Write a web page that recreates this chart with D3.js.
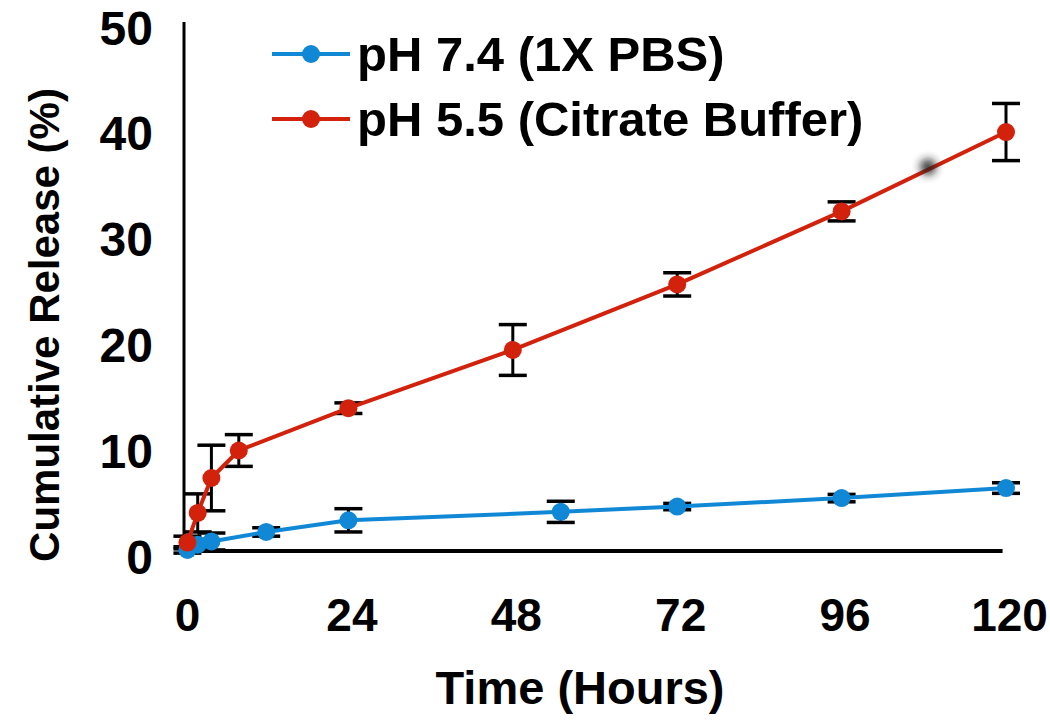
<!DOCTYPE html>
<html>
<head>
<meta charset="utf-8">
<script src="https://cdn.jsdelivr.net/npm/d3@7"></script>
<style>
  html, body { margin: 0; padding: 0; background: #fff; }
  svg { display: block; }
  text { font-family: "Liberation Sans", Arial, sans-serif; font-weight: bold; fill: #000; }
</style>
</head>
<body>
<svg id="chart" width="1050" height="720"></svg>
<script>
// ---- data ----
const seriesNames = ["pH 7.4 (1X PBS)", "pH 5.5 (Citrate Buffer)"];
const seriesColors = ["#1188d6", "#d2220c"];

const timesBlue   = [0.5, 2, 4, 12, 24, 55, 72, 96, 120];
const releaseBlue = [0.1, 0.6, 0.9, 1.8, 2.9, 3.7, 4.2, 5.0, 5.95];
const errorBlue   = [0.3, 0.5, 0.8, 0.4, 1.1, 1.0, 0.3, 0.35, 0.5];

const timesRed    = [0.5, 2, 4, 8, 24, 48, 72, 96, 120];
const releaseRed  = [0.8, 3.6, 6.9, 9.5, 13.5, 19.0, 25.2, 32.1, 39.6];
const errorRed    = [0.6, 1.8, 3.1, 1.5, 0.5, 2.4, 1.1, 0.9, 2.7];

const xTicks = [0, 24, 48, 72, 96, 120];
const yTicks = [0, 10, 20, 30, 40, 50];

const xTitle = "Time (Hours)";
const yTitle = "Cumulative Release (%)";

// ---- build ----
const svg = d3.select("#chart");
const FONT = '"Liberation Sans", Arial, sans-serif';

const x = d3.scaleLinear().domain([0, 120]).range([184, 1006]);
const y = d3.scaleLinear().domain([0, 50]).range([551, 22]);

const series = [
  { name: seriesNames[0], color: seriesColors[0],
    pts: timesBlue.map((t, i) => ({ t, v: releaseBlue[i], e: errorBlue[i] })) },
  { name: seriesNames[1], color: seriesColors[1],
    pts: timesRed.map((t, i) => ({ t, v: releaseRed[i], e: errorRed[i] })) }
];

// axes lines
svg.append("line")
  .attr("x1", x(0)).attr("x2", x(0))
  .attr("y1", y(50)).attr("y2", y(0))
  .attr("stroke", "#000").attr("stroke-width", 3);
svg.append("line")
  .attr("x1", x(0) - 1.5).attr("x2", x(119.5))
  .attr("y1", y(0)).attr("y2", y(0))
  .attr("stroke", "#000").attr("stroke-width", 4);

// tick labels
const xAxis = d3.axisBottom(x).tickValues(xTicks).tickSize(0).tickPadding(0);
const gx = svg.append("g").attr("transform", `translate(3, ${y(0) + 80})`).call(xAxis);
gx.select(".domain").remove();
gx.selectAll("text").attr("dy", 0).attr("y", 0)
  .attr("font-size", 46).style("font-family", FONT).style("font-weight", "bold").attr("fill", "#000");

const yAxis = d3.axisLeft(y).tickValues(yTicks).tickSize(0).tickPadding(0);
const gy = svg.append("g").attr("transform", `translate(153, 0)`).call(yAxis);
gy.select(".domain").remove();
gy.selectAll("text").attr("dy", 0).attr("y", 22).attr("x", 0)
  .attr("font-size", 48).style("font-family", FONT).style("font-weight", "bold").attr("fill", "#000");

// titles
svg.append("text").attr("x", 580).attr("y", 704).attr("text-anchor", "middle")
  .attr("font-size", 47).text(xTitle);
svg.append("text").attr("transform", "translate(59, 325) rotate(-90)").attr("text-anchor", "middle")
  .attr("font-size", 42).text(yTitle);

// error bars
const capHalf = 14;
series.forEach(s => {
  const g = svg.append("g");
  s.pts.forEach(p => {
    const cx = x(p.t), yt = y(p.v + p.e), yb = y(Math.max(p.v - p.e, -1));
    g.append("line").attr("x1", cx).attr("x2", cx).attr("y1", yt).attr("y2", yb)
      .attr("stroke", "#000").attr("stroke-width", 3);
    g.append("line").attr("x1", cx - capHalf).attr("x2", cx + capHalf).attr("y1", yt).attr("y2", yt)
      .attr("stroke", "#000").attr("stroke-width", 3.5);
    g.append("line").attr("x1", cx - capHalf).attr("x2", cx + capHalf).attr("y1", yb).attr("y2", yb)
      .attr("stroke", "#000").attr("stroke-width", 3.5);
  });
});

// lines and markers
const line = d3.line().x(d => x(d.t)).y(d => y(d.v));
series.forEach(s => {
  svg.append("path").datum(s.pts).attr("d", line)
    .attr("fill", "none").attr("stroke", s.color).attr("stroke-width", 4)
    .attr("stroke-linejoin", "round");
  svg.append("g").selectAll("circle").data(s.pts).join("circle")
    .attr("cx", d => x(d.t)).attr("cy", d => y(d.v)).attr("r", 9)
    .attr("fill", s.color);
});

// smudge artifact visible in the reference
const defs = svg.append("defs");
defs.append("filter").attr("id", "blur").attr("x", "-100%").attr("y", "-100%").attr("width", "300%").attr("height", "300%")
  .append("feGaussianBlur").attr("stdDeviation", 4);
svg.append("circle").attr("cx", 928).attr("cy", 167).attr("r", 8)
  .attr("fill", "#222").attr("filter", "url(#blur)").attr("opacity", 0.9);

// legend
const legend = svg.append("g");
series.forEach((s, i) => {
  const ly = 54 + i * 65;
  legend.append("line").attr("x1", 272).attr("x2", 350).attr("y1", ly).attr("y2", ly)
    .attr("stroke", s.color).attr("stroke-width", 4);
  legend.append("circle").attr("cx", 311).attr("cy", ly).attr("r", 9).attr("fill", s.color);
  legend.append("text").attr("x", 357).attr("y", ly + 17).attr("font-size", 49).text(s.name);
});
</script>
</body>
</html>
